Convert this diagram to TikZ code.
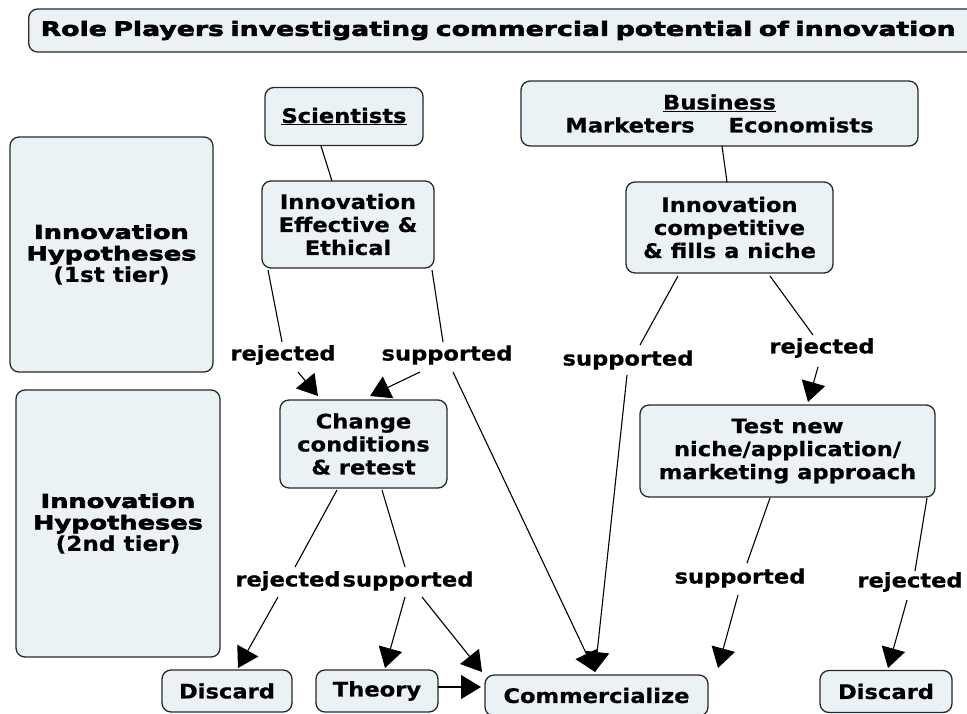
\documentclass[tikz,border=0pt]{standalone}
\usepackage{fontspec}
\setmainfont{DejaVu Sans}
\newfontfamily\nodefont{DejaVu Sans Bold}[FakeStretch=1.13,FakeBold=0.6]
\newfontfamily\heavyfont{DejaVu Sans Bold}[FakeStretch=1.35,FakeBold=3]
\usetikzlibrary{arrows.meta,calc}
\definecolor{boxfill}{RGB}{234,242,245}
\definecolor{boxline}{RGB}{40,40,40}
\tikzset{
  box/.style={draw=boxline, line width=1.3pt, fill=boxfill, rounded corners=9pt,
    align=center, inner sep=0pt, font=\nodefont\fontsize{20}{23}\selectfont},
  tierbox/.style={box, font=\nodefont\fontsize{20.5}{21.5}\selectfont},
  lbl/.style={font=\nodefont\fontsize{20}{23}\selectfont, inner sep=1pt},
  link/.style={line width=1.1pt, draw=black},
  arr/.style={link, -{Triangle[length=20pt,width=24pt]}}
}
\begin{document}
\begin{tikzpicture}[x=1pt,y=-1pt]
\useasboundingbox (0,0) rectangle (967,713);
\clip (0,0) rectangle (967,713);
\fill[white] (0,0) rectangle (967,713);

% title
\node[box, anchor=west, minimum height=43pt, text width=1000pt, inner xsep=12pt, align=left] (title) at (28,30.5)
  {\resizebox{915pt}{!}{\heavyfont\fontsize{20}{20}\selectfont Role Players investigating commercial potential of innovation}};

% boxes
\node[box, minimum width=158pt, minimum height=58pt] (sci) at (344,116.5) {\underline{Scientists}};
\node[box, minimum width=172pt, minimum height=87pt] (ie) at (348,224.5) {Innovation\\Effective \&\\Ethical};
\node[box, minimum width=397pt, minimum height=65pt] (bus) at (719.5,113.5) {\underline{Business}\\Marketers\hspace{34pt}Economists};
\node[box, minimum width=207pt, minimum height=91pt] (comp) at (729.5,227.5) {Innovation\\competitive\\\& fills a niche};
\node[tierbox, minimum width=203pt, minimum height=235pt] (t1) at (111.5,254.5) {{\heavyfont\fontsize{19}{21.5}\selectfont Innovation}\\{\heavyfont\fontsize{19}{21.5}\selectfont Hypotheses}\\(1st tier)};
\node[tierbox, minimum width=204pt, minimum height=267pt] (t2) at (118,523.5) {{\heavyfont\fontsize{19}{21.5}\selectfont Innovation}\\{\heavyfont\fontsize{19}{21.5}\selectfont Hypotheses}\\(2nd tier)};
\node[box, minimum width=167pt, minimum height=88pt] (cc) at (363.5,444) {Change\\conditions\\\& retest};
\node[box, minimum width=295pt, minimum height=92pt] (tn) at (787.5,451) {Test new\\niche/application/\\marketing approach};
\node[box, minimum width=130pt, minimum height=42pt] (dl) at (227,691) {Discard};
\node[box, minimum width=122pt, minimum height=42pt] (th) at (377,691) {Theory};
\node[box, minimum width=223pt, minimum height=41pt] (com) at (596.5,695.5) {Commercialize};
\node[box, minimum width=132pt, minimum height=42pt] (dr) at (886,691.5) {Discard};

% labels
\node[lbl] (rej1) at (283,355) {rejected};
\node[lbl] (sup1) at (447,355) {supported};
\node[lbl] (sup2) at (628,360) {supported};
\node[lbl] (rej2) at (822,348) {rejected};
\node[lbl] (rej3) at (288,581) {rejected};
\node[lbl] (sup3) at (408,581) {supported};
\node[lbl] (sup4) at (740,578) {supported};
\node[lbl] (rej4) at (910,582) {rejected};

% connectors
\draw[link] ($(sci)+(-23,29.5)$) -- ($(ie)+(-16,-43.5)$);
\draw[link] ($(bus)+(2.5,32.5)$) -- ($(comp)+(-2.5,-45.5)$);
\draw[link] ($(ie)+(-80,45.5)$) -- ($(rej1)+(-1,-13)$);
\draw[arr] ($(rej1)+(15,17)$) -- ($(cc)+(-45.5,-48)$);
\draw[link] ($(ie)+(84,45.5)$) -- ($(sup1)+(-4,-13)$);
\draw[arr] ($(sup1)+(-27,17)$) -- ($(cc)+(6.5,-48)$);
\draw[arr] ($(sup1)+(6,17)$) -- ($(com)+(-1.5,-23.5)$);
\draw[link] ($(comp)+(-51.5,48.5)$) -- ($(sup2)+(12,-15)$);
\draw[arr] ($(sup2)+(-1,15)$) -- ($(com)+(-1.5,-23.5)$);
\draw[link] ($(comp)+(40.5,48.5)$) -- ($(rej2)+(-9,-13)$);
\draw[arr] ($(rej2)+(-4,19)$) -- ($(tn)+(20.5,-49)$);
\draw[link] ($(cc)+(-26.5,46)$) -- ($(rej3)+(7,-14)$);
\draw[arr] ($(rej3)+(-10,16)$) -- ($(dl)+(11,-23)$);
\draw[link] ($(cc)+(18.5,46)$) -- ($(sup3)+(-3,-14)$);
\draw[arr] ($(sup3)+(-3,16)$) -- ($(th)+(8,-23)$);
\draw[arr] ($(sup3)+(14,16)$) -- ($(com)+(-114.5,-23.5)$);
\draw[arr] ($(th)+(61,-4)$) -- ($(com)+(-115.5,-8.5)$);
\draw[link] ($(tn)+(-17.5,47)$) -- ($(sup4)+(7,-15)$);
\draw[arr] ($(sup4)+(-2,17)$) -- ($(com)+(121.5,-27.5)$);
\draw[link] ($(tn)+(139.5,47)$) -- ($(rej4)+(5,-11)$);
\draw[arr] ($(rej4)+(-3,18)$) -- ($(dr)+(2,-23.5)$);
\end{tikzpicture}
\end{document}
